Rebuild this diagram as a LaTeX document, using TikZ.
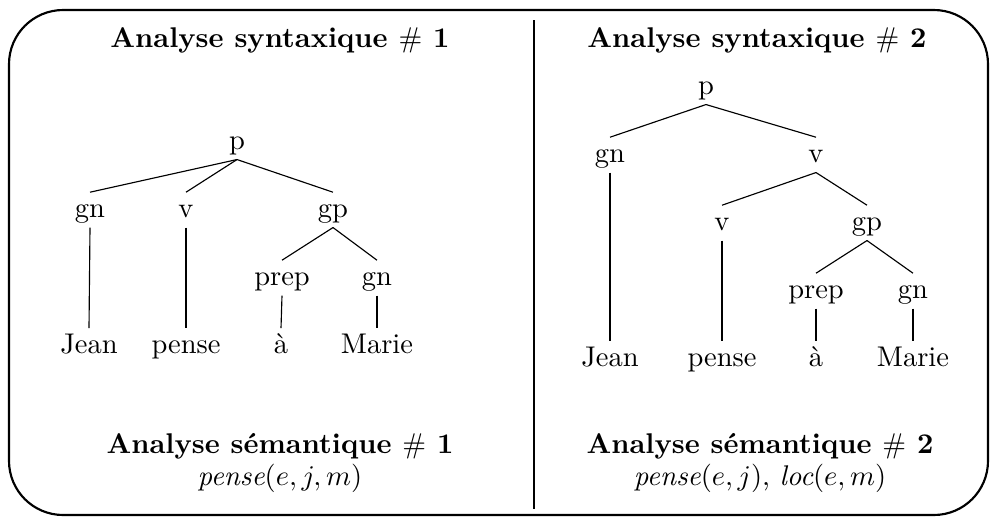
\documentclass[tikz,border=0pt]{standalone}
\usepackage{amsmath}
\usepackage{tikz}
\usetikzlibrary{positioning}

\begin{document}
\begin{tikzpicture}[
    x=0.351pt, y=-0.351pt,
    lbl/.style={anchor=base, text height=6.5pt, text depth=1.5pt, inner sep=2pt},
    ttl/.style={anchor=base, font=\bfseries},
    frm/.style={rounded corners=19pt, line width=0.75pt}
]
    \useasboundingbox (0,0) rectangle (990,516);
    \draw[frm] (9,10) rectangle (988,515);
    \coordinate (divtop) at (534,20);
    \coordinate (divbot) at (534,509);
    \draw (divtop) -- (divbot);

    % left analysis
    \node[ttl] (synA) at (280,47) {Analyse syntaxique $\#$ 1};
    \node[lbl] (p1) at (237,149) {p};
    \node[lbl] (gnA) at (90,217) {gn};
    \node[lbl] (vA) at (186,217) {v};
    \node[lbl] (gpA) at (333,217) {gp};
    \node[lbl] (prepA) at (282,285) {prep};
    \node[lbl] (gnB) at (377,285) {gn};
    \node[lbl] (jeanA) at (89,353) {Jean};
    \node[lbl] (penseA) at (186,353) {pense};
    \node[lbl] (aA) at (281,353) {à};
    \node[lbl] (marieA) at (377,353) {Marie};

    \draw (p1.south) -- (gnA.north);
    \draw (p1.south) -- (vA.north);
    \draw (p1.south) -- (gpA.north);
    \draw (gnA.south) -- (jeanA.north);
    \draw (vA.south) -- (penseA.north);
    \draw (gpA.south) -- (prepA.north);
    \draw (gpA.south) -- (gnB.north);
    \draw (prepA.south) -- (aA.north);
    \draw (gnB.south) -- (marieA.north);

    \node[ttl] (semA) at (280,453) {Analyse sémantique $\#$ 1};
    \node[anchor=base] (formA) at (280,485) {$\textit{pense}(e,j,m)$};

    % right analysis
    \node[ttl] (synB) at (757,47) {Analyse syntaxique $\#$ 2};
    \node[lbl] (p2) at (706,94) {p};
    \node[lbl] (gnC) at (610,162) {gn};
    \node[lbl] (v1) at (816,162) {v};
    \node[lbl] (v2) at (722,230) {v};
    \node[lbl] (gpB) at (867,230) {gp};
    \node[lbl] (prepB) at (816,298) {prep};
    \node[lbl] (gnD) at (913,298) {gn};
    \node[lbl] (jeanB) at (610,366) {Jean};
    \node[lbl] (penseB) at (722,366) {pense};
    \node[lbl] (aB) at (816,366) {à};
    \node[lbl] (marieB) at (913,366) {Marie};

    \draw (p2.south) -- (gnC.north);
    \draw (p2.south) -- (v1.north);
    \draw (gnC.south) -- (jeanB.north);
    \draw (v1.south) -- (v2.north);
    \draw (v1.south) -- (gpB.north);
    \draw (v2.south) -- (penseB.north);
    \draw (gpB.south) -- (prepB.north);
    \draw (gpB.south) -- (gnD.north);
    \draw (prepB.south) -- (aB.north);
    \draw (gnD.south) -- (marieB.north);

    \node[ttl] (semB) at (760,453) {Analyse sémantique $\#$ 2};
    \node[anchor=base] (formB) at (760,485) {$\textit{pense}(e,j)$, $\textit{loc}(e,m)$};
\end{tikzpicture}
\end{document}
